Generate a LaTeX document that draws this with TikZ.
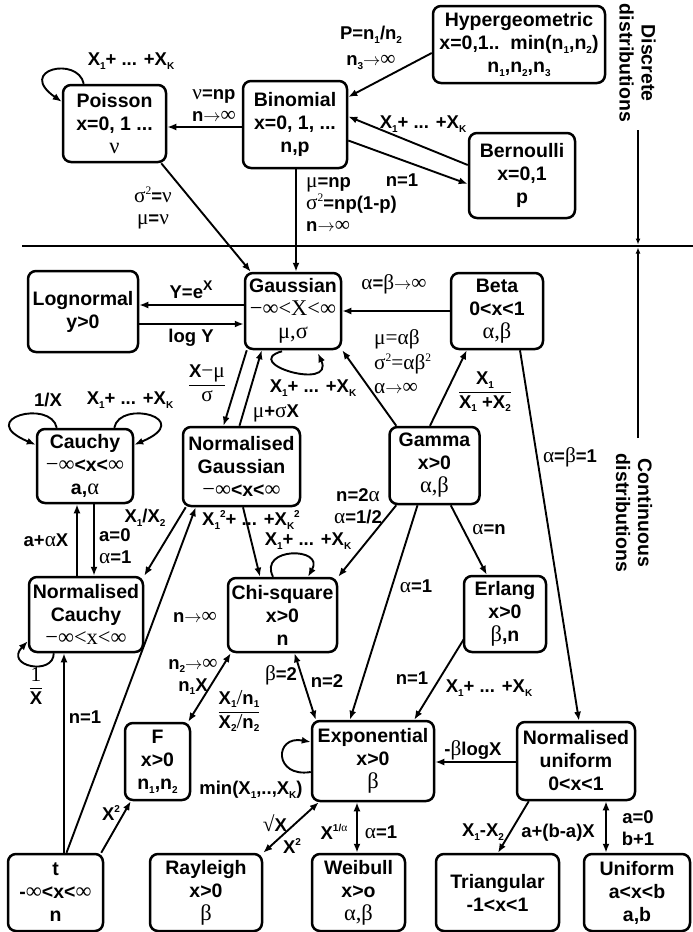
\documentclass[tikz,border=0pt]{standalone}
\usepackage{fontspec}
\setmainfont{Liberation Sans}
\newfontfamily\grk[Scale=1.15]{Liberation Serif}
\usetikzlibrary{calc,arrows.meta}
\newcommand\gk[1]{{\grk\mdseries #1}}
\newcommand\goes{\ensuremath{\rightarrow}}
\newcommand\lo[1]{\raisebox{-0.35ex}{\fontsize{10}{10}\selectfont #1}}
\newcommand\hi[1]{\raisebox{0.85ex}{\fontsize{10}{10}\selectfont #1}}
\newcommand\frc[2]{$\displaystyle{\hbox{#1}\over\hbox{#2}}$}
\newcommand\sumk{X\lo{1}+ ... +X\lo{K}}
\tikzset{
  distbox/.style={draw, rounded corners=8pt, line width=2.5pt, align=center, inner sep=2pt,
    minimum height=77pt, font=\fontsize{19.5}{23}\selectfont\bfseries},
  lbl/.style={inner sep=0pt, align=center, font=\fontsize{18.5}{22}\selectfont\bfseries},
  arr/.style={line width=1.9pt, -{Latex[length=9pt,width=7pt]}},
  dblarr/.style={line width=1.9pt, {Latex[length=9pt,width=7pt]}-{Latex[length=9pt,width=7pt]}},
  sarr/.style={line width=1.6pt, -{Latex[length=6pt,width=5pt]}},
  sepline/.style={line width=2pt},
}

\begin{document}
\begin{tikzpicture}[x=1pt, y=-1pt]
		\useasboundingbox (0, 0) rectangle (693, 932);
		
		%%%%% DISCRETE %%%%%
		
		\node[distbox, minimum width=103pt] (poi) at (114.5, 123.5) {Poisson\\x=0, 1 ...\\\gk{ν}};
		\node[distbox, minimum width=104pt, minimum height=87pt] (bin) at (295, 124.5) {Binomial\\x=0, 1, ...\\n,p};
		\node[distbox, minimum width=172pt] (hyp) at (519, 44.5) {Hypergeometric\\x=0,1..\ \ min(n\lo{1},n\lo{2})\\n\lo{1},n\lo{2},n\lo{3}};
		\node[distbox, minimum width=106pt, minimum height=85pt] (ber) at (522, 175.5) {Bernoulli\\x=0,1\\p};
		
		%%%%% CONTINUOUS %%%%%
		
		\node[distbox, minimum width=96pt, minimum height=76pt] (gau) at (293, 311) {Gaussian\\\gk{−∞<X<∞}\\\gk{μ,σ}};
		\node[distbox, minimum width=110pt, minimum height=81pt] (logn) at (83, 311.5) {Lognormal\\y>0};
		\node[distbox, minimum width=92pt, minimum height=76pt] (beta) at (497, 311) {Beta\\0<x<1\\\gk{α,β}};
		\node[distbox, minimum width=96pt, minimum height=74pt] (cau) at (85, 466) {Cauchy\\\gk{−∞}<x<\gk{∞}\\a,\gk{α}};
		\node[distbox, minimum width=117pt, minimum height=79pt] (ngau) at (241.5, 466.5) {Normalised\\Gaussian\\\gk{−∞}<x<\gk{∞}};
		\node[distbox, minimum width=90pt] (gam) at (434.5, 465.5) {Gamma\\x>0\\\gk{α,β}};
		\node[distbox, minimum width=114pt, minimum height=75pt] (ncau) at (86, 614.5) {Normalised\\Cauchy\\\gk{−∞<x<∞}};
		\node[distbox, minimum width=109pt, minimum height=74pt] (chi) at (282.5, 615) {Chi-square\\x>0\\n};
		\node[distbox, minimum width=82pt, minimum height=76pt] (erl) at (505, 614) {Erlang\\x>0\\\gk{β},n};
		\node[distbox, minimum width=65pt] (F) at (157.5, 761.5) {F\\x>0\\n\lo{1},n\lo{2}};
		\node[distbox, minimum width=122pt, minimum height=80pt] (expo) at (373, 761) {Exponential\\x>0\\\gk{β}};
		\node[distbox, minimum width=118pt, minimum height=78pt] (nuni) at (576, 761) {Normalised\\uniform\\0<x<1};
		\node[distbox, minimum width=95pt] (t) at (55.5, 892.5) {t\\-\gk{∞}<x<\gk{∞}\\n};
		\node[distbox, minimum width=112pt] (ray) at (206, 892.5) {Rayleigh\\x>0\\\gk{β}};
		\node[distbox, minimum width=93pt] (wei) at (358.5, 892.5) {Weibull\\x>o\\\gk{α,β}};
		\node[distbox, minimum width=123pt] (tri) at (497.5, 892.5) {Triangular\\-1<x<1};
		\node[distbox, minimum width=106pt] (uni) at (637, 892.5) {Uniform\\a<x<b\\a,b};
		
		%%%%% SEPARATORS %%%%%
		
		\coordinate (sepL) at (22, 246);
		\coordinate (sepR) at (693, 246);
		\draw[sepline] (sepL) -- (sepR);
		\coordinate (dtop) at (638, 130);
		\coordinate (dsep) at (638, 244.5);
		\coordinate (cbot) at (638, 438);
		\coordinate (csep) at (638, 247.5);
		\draw[sarr] (dtop) -- (dsep);
		\draw[sarr] (cbot) -- (csep);
		\node[lbl, rotate=-90, font=\fontsize{19.5}{22}\selectfont\bfseries] (disc) at (637.5, 63) {Discrete\\distributions};
		\node[lbl, rotate=-90, font=\fontsize{19.5}{22}\selectfont\bfseries] (cont) at (634, 513) {Continuous\\distributions};
		
		%%%%% DISCRETE LINKS %%%%%
		
		\draw[arr] ($(bin.west)+(0, 2.5)$) -- ($(poi.east)+(0, 3.5)$);
		\node[lbl] (l-bp) at (214, 106) {\gk{ν}=np\\n\gk{\goes∞}};
		
		\draw[arr] ($(poi.north west)+(22, 0)$) .. controls ($(poi.north west)+(16, -28)$) and ($(poi.north west)+(-46, -14)$) .. ($(poi.north west)+(0, 18)$);
		\node[lbl] (l-pp) at (131, 61) {\sumk};
		
		\draw[arr] ($(hyp.west)+(0, 8.5)$) -- ($(bin.east)+(0, -27.5)$);
		\node[lbl] (l-hb) at (371, 48) {P=n\lo{1}/n\lo{2}\\[4pt]n\lo{3}\gk{\goes∞}};
		
		\draw[arr] ($(ber.west)+(0, -10.5)$) -- ($(bin.east)+(0, -8)$);
		\node[lbl] (l-bb) at (423, 124) {\sumk};
		\draw[arr] ($(bin.east)+(0, 16)$) -- ($(ber.west)+(0, 8.5)$);
		\node[lbl] (l-bn) at (402, 180) {n=1};
		
		\draw[arr] ($(bin.south)+(1, 0)$) -- ($(gau.north)+(3, 0)$);
		\node[lbl, anchor=west, align=left] (l-bg) at (306, 205) {\gk{μ}=np\\\gk{σ\hi{2}}=np(1-p)\\n\gk{\goes∞}};
		
		\draw[arr] ($(poi.south east)+(-6, 0)$) -- ($(gau.north west)+(7, 0)$);
		\node[lbl] (l-pg) at (153, 208) {\gk{σ\hi{2}}=\gk{ν}\\\gk{μ}=\gk{ν}};
		
		%%%%% CONTINUOUS LINKS %%%%%
		
		% Gaussian row
		\draw[arr] ($(gau.west)+(0, -6)$) -- ($(logn.east)+(0, -6.5)$);
		\draw[arr] ($(logn.east)+(0, 12.5)$) -- ($(gau.west)+(0, 13)$);
		\node[lbl] (l-exp) at (191, 290) {Y=e\raisebox{0.8ex}{\fontsize{14}{14}\selectfont X}};
		\node[lbl] (l-log) at (191, 338) {log Y};
		
		\draw[arr] (beta.west) -- (gau.east);
		\node[lbl] (l-beta) at (394, 284) {\gk{α}=\gk{β\goes∞}};
		
		\draw[arr] ($(gau.south)+(-11, 1)$) .. controls ($(gau.south)+(-53, 13)$) and ($(gau.south)+(42, 41)$) .. ($(gau.south)+(25, 3)$);
		\node[lbl] (l-gg) at (313, 388) {\sumk};
		
		\draw[arr] ($(gau.south west)+(3, 0)$) -- ($(ngau.north)+(-18, 0)$);
		\draw[arr] ($(ngau.north)+(-2, 0)$) -- ($(gau.south west)+(18, 0)$);
		\node[lbl] (l-std) at (207, 383) {\frc{X\gk{−μ}}{\gk{σ}}};
		\node[lbl] (l-lin) at (276, 413) {\gk{μ}+\gk{σ}X};
		
		\draw[arr] ($(gam.north west)+(8, 0)$) -- (gau.south east);
		\node[lbl, anchor=west, align=left, font=\fontsize{18.5}{24.5}\selectfont] (l-gm) at (374, 362) {\gk{μ=αβ}\\\gk{σ\hi{2}=αβ\hi{2}}\\\gk{α\goes∞}};
		
		\draw[arr] ($(gam.north)+(-4.5, 0)$) -- ($(beta.south west)+(17, 0)$);
		\node[lbl] (l-ratio) at (485, 392) {\frc{X\lo{1}}{X\lo{1} +X\lo{2}}};
		
		\draw[arr] ($(beta.south)+(23, 0)$) -- ($(nuni.north)+(3, 0)$);
		\node[lbl] (l-bu) at (570, 457) {\gk{α}=\gk{β}=1};
		
		% Cauchy pair
		\draw[arr] ($(cau.north west)+(21, 0)$) .. controls ($(cau.north west)+(15, -29)$) and ($(cau.north west)+(-62, -9)$) .. ($(cau.north west)+(0, 17)$);
		\draw[arr] ($(cau.north east)+(-20, 0)$) .. controls ($(cau.north east)+(-14, -29)$) and ($(cau.north east)+(62, -9)$) .. ($(cau.north east)+(0, 17)$);
		\node[lbl] (l-inv) at (48, 400) {1/X};
		\node[lbl] (l-cc) at (130, 400) {\sumk};
		
		\draw[arr] ($(ncau.north)+(-9, 0)$) -- ($(cau.south)+(-8, 0)$);
		\draw[arr] ($(cau.south)+(9, 0)$) -- ($(ncau.north)+(8, 0)$);
		\node[lbl] (l-loc) at (46, 540) {a+\gk{α}X};
		\node[lbl, anchor=west, align=left] (l-std2) at (99, 546) {a=0\\\gk{α}=1};
		
		\draw[arr] ($(ngau.south west)+(4, 0)$) -- (ncau.north east);
		\node[lbl] (l-quot) at (145, 518) {X\lo{1}/X\lo{2}};
		
		\draw[arr] ($(ngau.south)+(1.5, 0)$) -- ($(chi.north)+(-22.5, 0)$);
		\node[lbl] (l-sq) at (251, 520) {X\lo{1}\hi{2}+ ... +X\lo{K}\hi{2}};
		
		% Gamma family
		\draw[arr] ($(gam.south west)+(8, 0)$) -- (chi.north east);
		\node[lbl] (l-gc) at (358, 506) {n=2\gk{α}\\\gk{α}=1/2};
		
		\draw[arr] ($(chi.north)+(-9.5, 0)$) .. controls ($(chi.north)+(-24.5, -30)$) and ($(chi.north)+(42.5, -30)$) .. ($(chi.north)+(25.5, 0)$);
		\node[lbl] (l-chi) at (308, 541) {\sumk};
		
		\draw[arr] ($(gam.south)+(-17, 0)$) -- ($(expo.north)+(-23, 0)$);
		\node[lbl] (l-a1) at (416, 586) {\gk{α}=1};
		\draw[arr] ($(gam.south east)+(-30, 0)$) -- ($(erl.north west)+(24, 0)$);
		\node[lbl] (l-an) at (489, 530) {\gk{α}=n};
		\draw[arr] ($(erl.south west)+(1, -14)$) -- ($(expo.north east)+(-21, 0)$);
		\node[lbl] (l-en) at (412, 678) {n=1};
		\node[lbl] (l-es) at (489, 688) {\sumk};
		
		% t and its limits
		\draw[arr] ($(t.north)+(11, 0)$) -- ($(ngau.south west)+(14, 0)$);
		\node[lbl] (l-lim) at (195, 617) {n\gk{\goes∞}};
		\draw[arr] ($(t.north)+(8.5, 0)$) -- ($(ncau.south)+(-22, 0)$);
		\node[lbl] (l-t1) at (85, 717) {n=1};
		
		\draw[arr] ($(ncau.south west)+(26, 0)$) .. controls ($(ncau.south west)+(26, 23)$) and ($(ncau.south west)+(-24, 13)$) .. ($(ncau.south west)+(0, -12)$);
		\node[lbl] (l-rec) at (36, 686) {\frc{\gk{1}}{X}};
		
		\draw[arr] ($(t.north east)+(-3, 0)$) -- ($(F.south west)+(7, 0)$);
		\node[lbl] (l-tf) at (111, 813) {X\hi{2}};
		
		\draw[dblarr] ($(F.north east)+(-3, 0)$) -- ($(chi.south west)+(4, 0)$);
		\node[lbl] (l-fc) at (193, 677) {n\lo{2}\gk{\goes∞}\\n\lo{1}X};
		\node[lbl] (l-ff) at (239, 711) {\frc{X\lo{1}\gk{/}n\lo{1}}{X\lo{2}\gk{/}n\lo{2}}};
		
		% Exponential
		\draw[dblarr] ($(chi.south)+(12, 0)$) -- ($(expo.north west)+(5, 0)$);
		\node[lbl] (l-b2) at (281, 675) {\gk{β}=2};
		\node[lbl] (l-n2) at (327, 681) {n=2};
		
		\draw[arr] ($(expo.west)+(0, 11)$) .. controls ($(expo.west)+(-37, 17)$) and ($(expo.west)+(-37, -26)$) .. ($(expo.west)+(0, -19)$);
		\node[lbl] (l-min) at (251, 790) {min(X\lo{1},..,X\lo{K})};
		
		\draw[arr] ($(nuni.west)+(0, 1)$) -- ($(expo.east)+(0, 1)$);
		\node[lbl] (l-lg) at (473, 750) {-\gk{β}logX};
		
		\draw[dblarr] ($(expo.south west)+(8, 0)$) -- (ray.north east);
		\node[lbl] (l-sqrt) at (275, 823) {\gk{√}X};
		\node[lbl] (l-sq2) at (292, 846) {X\hi{2}};
		
		\draw[dblarr] ($(expo.south)+(-16, 0)$) -- ($(wei.north)+(-1.5, 0)$);
		\node[lbl] (l-root) at (334, 832) {X\hi{1/\gk{α}}};
		\node[lbl] (l-w1) at (381, 832) {\gk{α}=1};
		
		% Uniforms
		\draw[arr] ($(nuni.south west)+(13, 0)$) -- ($(tri.north)+(0.5, 0)$);
		\node[lbl] (l-diff) at (483, 832) {X\lo{1}-X\lo{2}};
		\node[lbl] (l-lin2) at (558, 833) {a+(b-a)X};
		
		\draw[dblarr] ($(nuni.south)+(30, 0)$) -- ($(uni.north)+(-31, 0)$);
		\node[lbl] (l-ab) at (638, 828) {a=0\\b+1};
		
\end{tikzpicture}
\end{document}
